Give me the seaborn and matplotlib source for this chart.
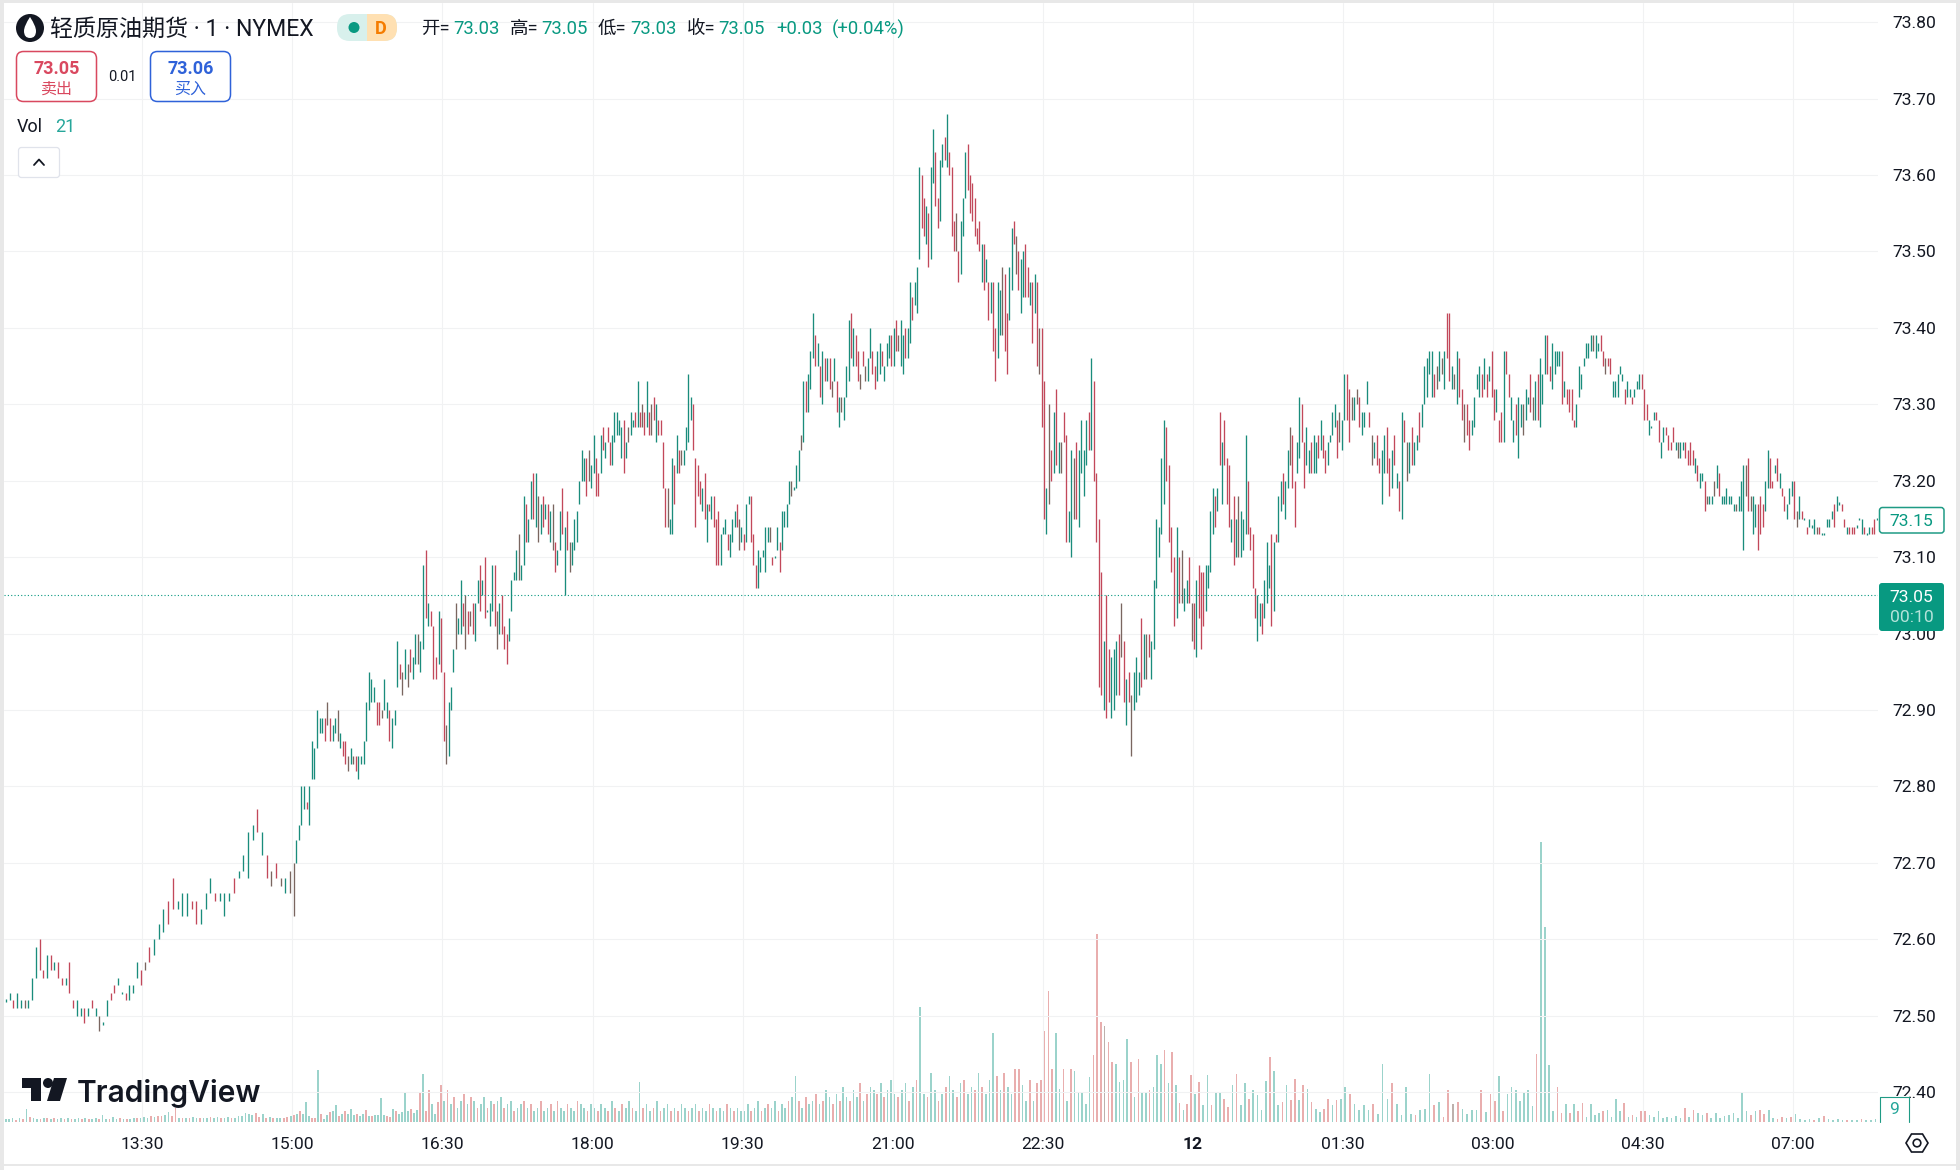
import matplotlib
matplotlib.use("Agg")
import matplotlib.pyplot as plt
import numpy as np
import pandas as pd
import seaborn as sns
from matplotlib.patches import Circle, FancyBboxPatch, PathPatch, Polygon, Rectangle
from matplotlib.path import Path

# Prices are kept as hundredths above 72.00, one row per stretch between two time ticks
PRICE_BASE = 72.0
TICK_LABELS = ["13:30", "15:00", "16:30", "18:00", "19:30", "21:00", "22:30", "12", "01:30", "03:00", "04:30", "07:00"]
PRICE_TICKS = [72.4, 72.5, 72.6, 72.7, 72.8, 72.9, 73.0, 73.1, 73.2, 73.3, 73.4, 73.5, 73.6, 73.7, 73.8]

HIGHS = [
    [52,53,52,53,52,52,52,55,59,60,56,58,58,57,57,55,55,57,52,52,51,51,51,52,51,50,49,52,53,54,55,53,53,54,54,57,56],
    [57,59,60,62,64,65,68,65,66,66,65,65,64,66,68,66,66,66,66,68,69,71,74,75,77,74,71,69,70,68,68,69],
    [70,73,75,80,80,78,80,86,85,90,89,89,89,91,89,88,89,90,87,86,86,84,85,84,84,84,84,86,91,95,94,93,91,91,90,94,91,90,89,90,99,96,95,98,96,98,97,100,100,99,109,111,104,103,101,97,103,102],
    [95,88,91,93,98,104,102,107,104,105,103,103,104,104,107,109,107,110,103,104,109,109,103,104,105,101,100,102,107,108,111,113,109,118,117,115,120,121,121,118,117,118,117,117,116,117,112,111,116,119,114,116,112,112,115,116,120,124,123,123,124,122],
    [126,123,121,126,127,125,127,125,126,129,129,128,127,128,125,127,129,128,129,133,129,130,129,133,129,130,131,130,128,128,125,119,119,115,123,122,126,124,124,124,127,134,131,130,123,122,120,119,121,117,117,118,118,115,116,113,114,115,113,113,115,116,117,115,114],
    [113,117,118,118,113,109,111,110,111,114,114,114,110,110,114,112,116,116,117,120,120,119,122,124,126,133,133,134,137,142,139,138,135,137,136,136,136,133,136,133,131,131,131,135,141,142,140,139,137,134,137,135,136,140,137,135,137,138,137,135,138,139,139],
    [140,141,139,141,139,140,140,146,144,146,148,161,160,157,156,155,161,166,163,157,162,164,165,168,163,161,154,155,150,154,157,163,164,160,159,157,153,154,151,151,149,146,146,146,140,146,145,148,147,142,148,153,154,152,150,149,150,151,148,146,146,147,146,140,140],
    [133,119,130,124,129,132,125,125,129,126,116,124,123,125,124,128,124,128,129,136,133,121,115,108,99,105,98,97,98,99,100,104,99,94,95,92,95,97,95,102,100,100,100,99,107,115,114,123,128,127,122,114,110,114,110,111,106,107,110,104],
    [104,107,109,108,108,109,109,116,119,118,119,129,125,128,123,122,115,118,115,118,116,115,126,120,114,113,106,105,104,104,107,112,109,113,112,113,118,120,121,120,124,127,126,120,125,131,130,125,127,124,125,126,125,126,128,126,124,125,126,129,130,128,129,128],
    [134,134,132,131,131,132,131,129,129,133,129,126,125,126,123,124,126,127,123,124,126,121,120,129,128,125,125,127,125,126,129,130,135,136,137,137,134,135,137,136,137,142,142,135,134,137,136,132,130,130,128,128,131,134,135,134,136,134,135,137],
    [132,132,128,129,137,137,134,131,128,130,131,130,130,132,131,134,131,133,134,136,134,139,139,135,138,137,137,137,137,133,132,132,132,128,130,135,134,136,138,138,139,139,139,138,139,137,136,136,136,133,133,134,135,134,132,133,132,131,132,133,134,134],
    [132,130,128,127,129,129,128,125,127,127,126,125,127,125,125,125,125,125,124,125,124,123,122,121,121,120,118,118,118,120,122,121,118,118,119,118,118,117,117,118,120,122,122,123,118,118,117,117,118,117,120,124,123,120,122,123,121,119,118,117,119,120],
    [120,116,118,116,115,114,115,114,115,114,114,113,113,115,115,116,117,118,117,117,115,114,114,114,114,114,115,115,114,113,114,114,115,115],
]
LOWS = [
    [52,52,51,51,51,51,51,52,55,56,55,55,56,56,55,54,54,53,51,50,50,49,50,51,50,48,49,50,52,53,54,53,52,52,53,55,54],
    [56,57,58,60,61,62,64,64,63,63,64,62,62,64,66,65,65,63,65,66,68,69,68,73,74,71,68,67,68,67,66,66],
    [63,70,73,75,77,77,75,81,81,85,87,87,86,88,86,86,87,86,85,84,83,82,83,83,82,81,83,83,86,90,91,91,88,88,89,90,89,86,85,88,93,94,92,94,93,95,94,96,96,95,98,102,101,101,94,94,96,95],
    [86,83,84,90,95,98,100,100,101,98,100,101,100,99,104,103,105,102,103,101,103,101,98,100,100,98,96,99,103,107,107,107,107,109,112,112,115,115,114,112,113,114,115,113,112,111,108,109,111,113,105,111,108,109,111,112,117,120,120,118,120,119],
    [121,118,118,121,124,123,125,122,122,125,126,126,123,121,123,125,126,127,127,127,127,127,126,127,126,126,128,125,126,126,119,114,114,113,113,117,121,121,122,122,124,125,128,124,114,118,117,116,115,112,116,115,114,109,109,109,113,113,111,110,112,114,114,111,112],
    [111,112,117,112,109,106,106,108,110,108,112,112,109,110,111,108,111,114,114,117,118,119,119,120,124,125,129,129,132,136,135,135,131,130,133,133,132,131,133,129,127,129,128,131,133,136,135,135,133,132,135,133,133,136,134,132,133,134,135,133,135,136,135],
    [135,137,137,135,134,136,136,138,141,143,142,149,153,152,151,148,149,159,156,153,154,161,162,161,160,152,150,150,146,147,152,157,158,155,154,152,151,150,146,145,146,141,142,137,133,136,139,139,137,134,141,145,151,147,145,142,144,144,144,143,138,142,135,134,127],
    [115,113,117,120,121,122,121,121,125,112,112,110,115,115,114,121,118,122,124,124,120,112,93,92,90,89,91,89,90,92,92,97,91,88,91,84,90,91,92,93,94,94,97,94,98,106,110,113,117,120,112,108,101,102,104,104,103,104,104,99],
    [98,97,102,98,101,103,106,108,113,114,116,122,117,122,117,114,112,109,110,110,110,111,113,113,111,106,102,99,101,100,102,104,106,101,103,112,112,116,117,115,119,122,119,114,121,123,125,119,122,121,121,121,121,123,124,123,121,122,125,126,127,123,125,124],
    [128,128,125,128,128,130,127,126,127,130,127,122,123,122,121,117,121,121,118,119,122,119,116,115,125,120,121,122,122,124,125,127,130,131,134,131,131,132,133,134,132,136,133,132,132,130,131,128,125,126,124,126,127,132,131,131,132,131,133,131],
    [128,129,125,125,125,134,131,128,125,126,123,127,126,128,130,129,128,128,128,127,130,134,134,133,132,134,135,135,130,131,130,129,128,127,127,131,132,135,136,136,137,137,136,137,137,135,134,135,134,131,131,131,134,133,130,131,131,130,131,132,132,132],
    [128,128,126,127,128,128,125,123,125,126,124,124,125,124,123,123,124,123,122,122,122,121,120,119,120,116,117,117,117,118,119,118,117,117,117,117,117,116,116,116,116,111,118,116,116,113,114,111,113,114,116,119,119,119,121,120,119,118,116,115,117,118],
    [115,114,115,115,115,113,114,114,113,113,113,113,113,114,114,115,114,116,117,116,114,113,113,113,113,114,115,113,113,113,113,113,113,115],
]
# g rising, r falling, b both colours on top of each other in the screenshot
SIDES = [
    "ggrggbgggr" "rgrgrrgrrg" "grgrgbggrr" "ggrgggr",
    "brgggrrggg" "rrgggrgggr" "ggggrgrbrb" "gb",
    "bggggrgggg" "ggrbrggbgr" "rbgbrggggg" "ggrrbggrgg" "grbgbrggbg" "grgrrrgr",
    "rbgggbggrb" "rbrggrgrgg" "grbgrrrggg" "gbggrggrgb" "grgrgbrggr" "grbggggggr" "bg",
    "grrgrgrrgg" "gggrgbggrg" "rbrgrbrgrr" "rrbggrgrbg" "gggrrrrgrg" "rgrrrgggrg" "ggrbg",
    "rggrrrgggg" "gbrggrgggg" "bgggbgrggg" "rgrgrgrbgr" "gbgggrgrrb" "rbggrrggrg" "ggr",
    "grbggrggrg" "ggrrgrggrr" "ggrgrrrbrg" "ggrrrrrrgr" "grgrrggbrr" "ggrbrggrrg" "rgrbr",
    "rgbrgrgbrr" "ggbrggggrg" "rrrrgrrggg" "rbrgrbgggr" "gbrggggggr" "rrrgrbggrb",
    "rgrrrggggr" "grgrrrgrgb" "gggrrrrggr" "gggrgrggrg" "gbrrggrrgg" "rggrgrrggg" "grbg",
    "grrbgbrggg" "rbgrrggrrg" "rgrgrbgrgg" "rgggggrbgb" "grrgbgrrbr" "rggggrgrgr",
    "rgrrgrrggr" "ggbggrbgrg" "ggrrggggrg" "rrrrgggggg" "gbggrrbrrg" "ggggrggrgg" "gr",
    "rrgggrrggr" "rrrgbggrrr" "rgrggrbggb" "grggggggbg" "ggbrbggrrr" "ggrrgrgrrg" "gg",
    "rbgrgrgggb" "rgggggrggr" "rgrrrgggrg" "grrg",
]

# Volume bars, thinned out to about half of the one minute bars on screen
VOLUMES = [
    [8,8,10,7,12,8,36,14,10,9,8,10,12,8,10,9,10,8,12,9,8,11,8,10,9,8,10,8,19,8,9,14,8,10,8,9,8,10,11,12],
    [14,12,16,14,18,16,20,28,18,40,12,10,12,10,14,10,12,10,12,14,12,14,10,10,14,10,12,16,18,26,24,20,26,14,24,12,14,12,10,12,10,14,18],
    [20,24,30,24,56,18,10,12,148,22,8,20,28,30,48,18,24,30,22,36,20,24,18,22,34,16,18,20,20,68,20,18,14,38,30,22,28,84,30,38,26,34,84,136,30,92,50,24,58,106],
    [60,90,50,70,40,60,80,50,70,60,40,50,70,40,60,50,60,70,40,50,60,30,40,50,60,40,50,30,40,60,30,40,50,30,60,40,30,50,40,30,60,50,40,30,50],
    [40,30,50,40,30,60,40,30,50,40,60,40,30,114,40,50,30,40,60,30,40,50,30,40,30,50,40,30,40,50,30,40,30,50,40,30,40,30,50,40,30,40,30],
    [30,50,30,40,60,30,40,50,40,60,30,50,40,60,70,132,60,40,70,50,60,80,50,60,90,70,50,80,60,100,70,60,90,70,110,60,80,100,90,80,110,70,90,120],
    [80,70,90,110,60,100,120,328,80,70,140,90,60,80,100,130,90,70,110,120,80,100,90,140,100,80,120,254,130,90,140,100,80,150,150,105,60,120,60,110,120],
    [260,375,150,255,95,150,60,150,145,85,85,50,128,190,537,285,275,228,170,165,115,120,238,170,70,180,85,85,90,100,190,165,207,110,200,105,55,33,50,133],
    [80,115,48,133,48,85,85,66,43,105,138,48,110,66,90,76,33,118,185,147,48,57,105,62,124,62,105,95,57,38,28,38,66,48,62,66],
    [100,80,52,33,48,33,52,24,166,66,110,52,19,100,24,19,33,38,138,48,57,14,90,52,57,38,24,33,33,90,28,80],
    [60,130,30,80,100,90,60,85,90,45,193,800,557,162,30,100,25,50,25,50,30,55,15,50,20,25,30,35,15,65,30,55,15,20,15,30],
    [30,20,15,30,10,15,12,18,12,40,15,35,25,20,27,10,25,10,18,20,25,12,85,30,20,30,35,22,35,10,8,15,10,15],
    [22,8,6,8,5,10,18,8,6,8,6,5,6,6,8,6,7,9],
]
VOLUME_SIDES = [
    "gggrgrgrgg" "rgrgrggrgr" "ggrgrggrgg" "rggrgrggrg",
    "ggrgrrggrr" "grgrggrggr" "ggrggrgggg" "ggrrgrgrgg" "rrg",
    "rgrgggrrgr" "ggrggrgrgg" "grggrgrggg" "grrgrggggr" "ggrgrrggrr",
    "grgrggrgrg" "rggrgrggrg" "grggrgrggr" "ggrgrggrgg" "rggrg",
    "grggrgrgrg" "grggrggrgr" "ggrgrggrgg" "rggrgrggrg" "rgg",
    "ggrggrgrgg" "rggrggrgrg" "grgrggrgrg" "grggrgrggr" "grgg",
    "grggrgrggr" "ggrgrggrgr" "ggrgrgggrg" "rggrrggrgr" "r",
    "rrrggrgrgg" "gggrrrbrrg" "gggrgrggrg" "ggrgrgrgrr",
    "grggrggrrg" "rggrggggrg" "grgrrgrgrg" "grrgrg",
    "grggggrggg" "rggggrgggr" "grrbrggggr" "gr",
    "rgrggggggg" "rggggrrgrg" "rrggggrggg" "grgrgr",
    "rggggggggr" "grggrggggg" "ggggrgrrgg" "rrgr",
    "ggggrgrggg" "grggrggg",
]

# bar index of the tick positions, the chart spaces ticks evenly on screen
LEG_EDGES = [-83] + [i * 90 for i in range(12)] + [1041]

CANDLE_COLORS = {"g": "#1a8c7c", "r": "#c2485a", "b": "#7a6660"}
VOLUME_COLORS = {"g": "#9bd3cb", "r": "#e9aeae", "b": "#bdb0ac"}
GREEN = "#089981"
INK = "#131722"

sns.set_theme(style="white")
plt.rcParams["font.family"] = ["Roboto", "Noto Sans CJK SC", "DejaVu Sans"]

# turn the legs into long tables
price_rows = []
bar_id = 0
for leg, (highs, lows, sides) in enumerate(zip(HIGHS, LOWS, SIDES)):
    start, stop = LEG_EDGES[leg], LEG_EDGES[leg + 1]
    step = (stop - start) / len(highs)
    for j, (hi, lo, side) in enumerate(zip(highs, lows, sides, strict=True)):
        pos = start + (j + 0.5) * step
        # flat bars still leave a small dash on the chart
        pad = 0.0015 if hi == lo else 0
        price_rows.append({"bar": bar_id, "pos": pos, "price": PRICE_BASE + lo / 100 - pad, "side": side})
        price_rows.append({"bar": bar_id, "pos": pos, "price": PRICE_BASE + hi / 100 + pad, "side": side})
        bar_id += 1
price_df = pd.DataFrame(price_rows)

vol_rows = []
for leg, (vols, sides) in enumerate(zip(VOLUMES, VOLUME_SIDES)):
    start, stop = LEG_EDGES[leg], LEG_EDGES[leg + 1]
    step = (stop - start) / len(vols)
    for j, (vol, side) in enumerate(zip(vols, sides, strict=True)):
        vol_rows.append({"pos": round(start + (j + 0.5) * step, 3), "volume": vol, "side": side})
vol_df = pd.DataFrame(vol_rows)

W, H = 1960, 1170
fig = plt.figure(figsize=(W / 100, H / 100), dpi=100, facecolor="white")

# plot area in pixels: x 4..1878, y 3..1122
ax_vol = fig.add_axes([4 / W, 1 - 1122 / H, (1878 - 4) / W, (1122 - 3) / H])
ax = ax_vol.twinx()
ax_vol.set_zorder(1)
ax.set_zorder(2)
ax.patch.set_visible(False)

sns.barplot(data=vol_df, x="pos", y="volume", hue="side", palette=VOLUME_COLORS, native_scale=True,
            dodge=False, width=0.55, errorbar=None, saturation=1, legend=False, linewidth=0, ax=ax_vol)
ax_vol.set_ylim(0, 3197)
ax_vol.set_yticks([])
ax_vol.set_ylabel("")
ax_vol.set_xlabel("")

sns.lineplot(data=price_df, x="pos", y="price", hue="side", units="bar", estimator=None, sort=False,
             palette=CANDLE_COLORS, legend=False, linewidth=0.95, solid_capstyle="butt", ax=ax)
for line in ax.lines:
    line.set_snap(True)

ax.set_xlim(LEG_EDGES[0], LEG_EDGES[-1])
ax.set_ylim(72.361, 73.825)
ax.set_xlabel("")
ax.set_ylabel("")
ax.set_xticks([i * 90 for i in range(12)], TICK_LABELS)
ax.set_yticks(PRICE_TICKS, [f"{p:.2f}" for p in PRICE_TICKS])
ax.yaxis.tick_right()
ax.xaxis.set_visible(True)
ax.xaxis.tick_bottom()
ax_vol.xaxis.set_visible(False)
ax.tick_params(axis="both", length=0, labelcolor=INK, labelsize=12.6)
ax.tick_params(axis="x", pad=10.5)
ax.tick_params(axis="y", pad=10.0)
ax.get_xticklabels()[7].set_fontweight("bold")
ax.grid(True, color="#f1f2f3", linewidth=0.75)
ax.set_axisbelow(True)
ax.axhline(73.05, color=GREEN, linestyle=(0, (1, 2)), linewidth=0.8, zorder=5)
for spine in list(ax.spines.values()) + list(ax_vol.spines.values()):
    spine.set_visible(False)

# page furniture, drawn in screenshot pixels on a clear overlay
ui = fig.add_axes([0, 0, 1, 1], zorder=5)
ui.set_xlim(0, W)
ui.set_ylim(H, 0)
ui.axis("off")


def box(x0, y0, x1, y1, face="white", edge="none", radius=0, lw=1.0, **kw):
    style = f"round,pad=0,rounding_size={radius}" if radius else "square,pad=0"
    patch = FancyBboxPatch((x0, y0), x1 - x0, y1 - y0, boxstyle=style, facecolor=face, edgecolor=edge, linewidth=lw, **kw)
    ui.add_patch(patch)
    return patch


def label(x, y, s, color=INK, size=13.5, ha="left", weight="normal", **kw):
    ui.text(x, y, s, color=color, fontsize=size, ha=ha, va="center", fontweight=weight, **kw)


# grey browser edges
ui.add_patch(Rectangle((0, 0), 4, H, color="#e8e8e8", lw=0))
ui.add_patch(Rectangle((0, 0), W, 3, color="#e8e8e8", lw=0))
ui.add_patch(Rectangle((1956, 0), 4, H, color="#e8e8e8", lw=0))
ui.add_patch(Rectangle((4, 1164), 1952, 1.5, color="#e8e8e8", lw=0))

# symbol logo, black disc with a white drop
ui.add_patch(Circle((30, 28), 14, color="#131722", lw=0))
drop = Path([(30, 17), (36, 26), (36, 31), (36, 38), (30, 38), (24, 38), (24, 31), (24, 26), (30, 17)],
            [Path.MOVETO, Path.CURVE3, Path.CURVE3, Path.CURVE3, Path.CURVE3, Path.CURVE3, Path.CURVE3, Path.CURVE3, Path.CURVE3])
ui.add_patch(PathPatch(drop, facecolor="white", edgecolor="none"))
label(50, 29, "轻质原油期货 · 1 · NYMEX", size=16.6)

# status pill
left_half = box(337, 14, 397, 41, face="#d8f0ec", radius=13)
right_half = box(337, 14, 397, 41, face="#ffe0b2", radius=13)
right_half.set_clip_path(Rectangle((367, 0), 40, 60, transform=ui.transData))
ui.add_patch(Circle((354, 27.5), 5.5, color=GREEN, lw=0))
label(381, 28.5, "D", color="#f57c00", size=13, ha="center", weight="bold")

# open high low close row
for x, s, c in [(421, "开=", INK), (453, "73.03", GREEN), (510, "高=", INK), (541, "73.05", GREEN),
                (598, "低=", INK), (630, "73.03", GREEN), (687, "收=", INK), (718, "73.05", GREEN),
                (776, "+0.03", GREEN), (832, "(+0.04%)", GREEN)]:
    label(x, 29, s, color=c, size=13.3)

# sell and buy boxes
box(16.5, 51.5, 96.5, 101.5, edge="#d9485f", radius=7, lw=1.1)
label(56.5, 69, "73.05", color="#d9485f", size=13, ha="center", weight="bold")
label(56.5, 89, "卖出", color="#d9485f", size=11.5, ha="center")
label(122, 77, "0.01", size=10.5, ha="center")
box(150.5, 51.5, 230.5, 101.5, edge="#2f62d9", radius=7, lw=1.1)
label(190.5, 69, "73.06", color="#2f62d9", size=13, ha="center", weight="bold")
label(190.5, 89, "买入", color="#2f62d9", size=11.5, ha="center")

# volume legend and collapse button
label(17, 127, "Vol", size=13)
label(55, 127, "21", color="#26a69a", size=13)
box(18.5, 147.5, 59.5, 177.5, edge="#e0e3eb", radius=3, lw=0.9)
ui.plot([34, 39, 44], [165, 159.5, 165], color=INK, lw=1.3, solid_capstyle="round")

# price labels on the scale
box(1879.5, 507.5, 1944, 533, edge="#1f9b85", radius=3, lw=1.1)
label(1911.5, 521, "73.15", color=GREEN, size=12.6, ha="center")
box(1879, 583, 1944, 631, face=GREEN, radius=3)
label(1911.5, 597, "73.05", color="white", size=12.6, ha="center")
label(1911.5, 617, "00:10", color="#b5e3da", size=12.6, ha="center")
ui.add_patch(Rectangle((1879, 1096), 30, 26, facecolor="white", edgecolor="none"))
ui.plot([1879.5, 1879.5, 1908.5, 1908.5], [1122, 1096.5, 1096.5, 1122], color="#1f9b85", lw=0.8)
label(1894, 1110, "9", color="#26a69a", size=12.6, ha="center")

# settings gear at the corner
hexagon = [(1906, 1143), (1911.5, 1134), (1922.5, 1134), (1928, 1143), (1922.5, 1152), (1911.5, 1152)]
ui.add_patch(Polygon(hexagon, closed=True, fill=False, edgecolor=INK, lw=1.2))
ui.add_patch(Circle((1917, 1143), 3.8, fill=False, edgecolor=INK, lw=1.2))

# TradingView watermark
ui.add_patch(Polygon([(22, 1078), (40.5, 1078), (40.5, 1101), (31, 1101), (31, 1088), (22, 1088)], color="#131722", lw=0))
ui.add_patch(Circle((48, 1083), 5, color="#131722", lw=0))
ui.add_patch(Polygon([(54, 1078), (67, 1078), (60, 1101), (47, 1101)], color="#131722", lw=0))
ui.text(77, 1093, "TradingView", color="#131722", fontsize=21.5, fontweight="semibold", family="Inter", ha="left", va="center")

fig.savefig("out.png", dpi=100)
